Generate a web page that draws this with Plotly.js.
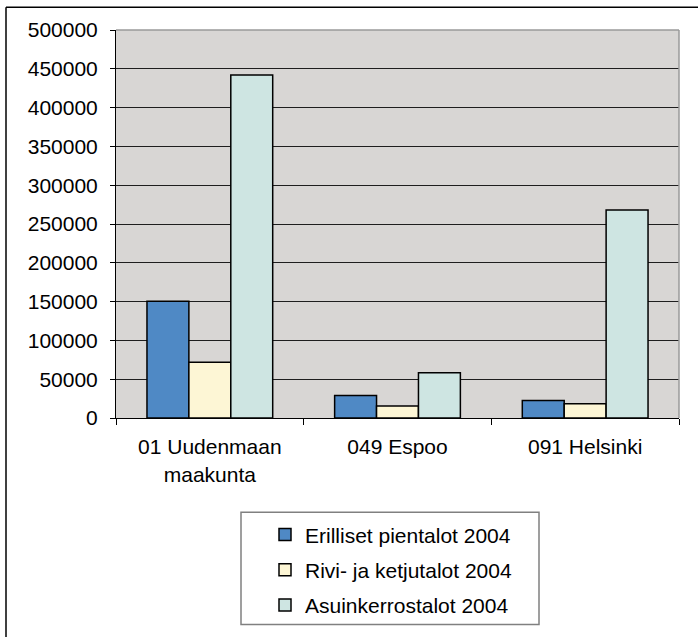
<!DOCTYPE html>
<html>
<head>
<meta charset="utf-8">
<script src="https://cdn.plot.ly/plotly-3.0.1.min.js"></script>
<style>
  html, body { margin: 0; padding: 0; background: #ffffff; }
  #chart { width: 698px; height: 637px; }
</style>
</head>
<body>
<div id="chart"></div>
<script>
// Data
const categories = ['01 Uudenmaan<br>maakunta', '049 Espoo', '091 Helsinki'];
const seriesNames = ['Erilliset pientalot 2004', 'Rivi- ja ketjutalot 2004', 'Asuinkerrostalot 2004'];
const erillisetPientalot = [150500, 28900, 22500];
const riviJaKetjutalot = [71700, 15400, 18300];
const asuinkerrostalot = [442000, 58400, 267900];
const yTickValues = [0, 50000, 100000, 150000, 200000, 250000, 300000, 350000, 400000, 450000, 500000];
const yTickLabels = ['0', '50000', '100000', '150000', '200000', '250000', '300000', '350000', '400000', '450000', '500000'];

const seriesValues = [erillisetPientalot, riviJaKetjutalot, asuinkerrostalot];
const seriesColors = ['#4f89c5', '#fdf6d5', '#cee5e2'];

const W = 698, H = 637;
const L = 116, R = 679, T = 30, B = 421;
const px = x => (x - L) / (R - L);
const py = y => (B - y) / (B - T);

const traces = seriesValues.map((vals, i) => ({
  type: 'bar',
  name: seriesNames[i],
  x: categories,
  y: vals,
  legendgroup: 'g' + i,
  marker: { color: seriesColors[i], line: { color: '#000000', width: 1.5 } },
  hoverinfo: 'x+y+name'
}));

const font = { family: '"Liberation Sans", Arial, sans-serif', size: 21, color: '#000000' };

const layout = {
  width: W, height: H,
  margin: { l: L, r: W - R, t: T, b: H - B, pad: 0 },
  paper_bgcolor: '#ffffff',
  plot_bgcolor: '#d8d6d4',
  font: font,
  barmode: 'group',
  bargap: 0.33,
  bargroupgap: 0,
  showlegend: true,
  legend: {
    x: px(265), y: py(518), xanchor: 'left', yanchor: 'top',
    orientation: 'v',
    traceorder: 'grouped',
    tracegroupgap: 5,
    bgcolor: 'rgba(0,0,0,0)',
    borderwidth: 0,
    font: font
  },
  xaxis: {
    type: 'category',
    range: [-0.5, 2.5],
    tickson: 'boundaries',
    ticks: 'outside', ticklen: 6, tickwidth: 1, tickcolor: '#000000',
    showline: true, linecolor: '#000000', linewidth: 1,
    showgrid: false, zeroline: false,
    ticklabelstandoff: 10,
    tickfont: font
  },
  yaxis: {
    range: [0, 500000],
    tickmode: 'array', tickvals: yTickValues, ticktext: yTickLabels,
    ticks: 'outside', ticklen: 5, tickwidth: 1, tickcolor: '#000000',
    showline: true, linecolor: '#000000', linewidth: 1,
    showgrid: true, gridcolor: '#1e1e1e', gridwidth: 1,
    zeroline: false,
    ticklabelstandoff: 8,
    tickfont: font
  },
  shapes: [
    { type: 'line', xref: 'paper', yref: 'paper', x0: 0, x1: 1, y0: 1, y1: 1, line: { color: '#9a9a9a', width: 1.5 } },
    { type: 'line', xref: 'paper', yref: 'paper', x0: 1, x1: 1, y0: 0, y1: 1, line: { color: '#9a9a9a', width: 1.5 } },
    { type: 'rect', xref: 'paper', yref: 'paper', x0: px(241), x1: px(539), y0: py(516), y1: py(629), line: { color: '#808080', width: 1.5 }, fillcolor: 'rgba(0,0,0,0)' },
    { type: 'line', xref: 'paper', yref: 'paper', x0: px(6), x1: px(6), y0: py(7), y1: py(645), line: { color: '#000000', width: 1.5 } },
    { type: 'line', xref: 'paper', yref: 'paper', x0: px(6), x1: px(705), y0: py(7), y1: py(7), line: { color: '#000000', width: 1.5 } }
  ]
};

Plotly.newPlot('chart', traces, layout, { displayModeBar: false, responsive: false });
</script>
</body>
</html>
